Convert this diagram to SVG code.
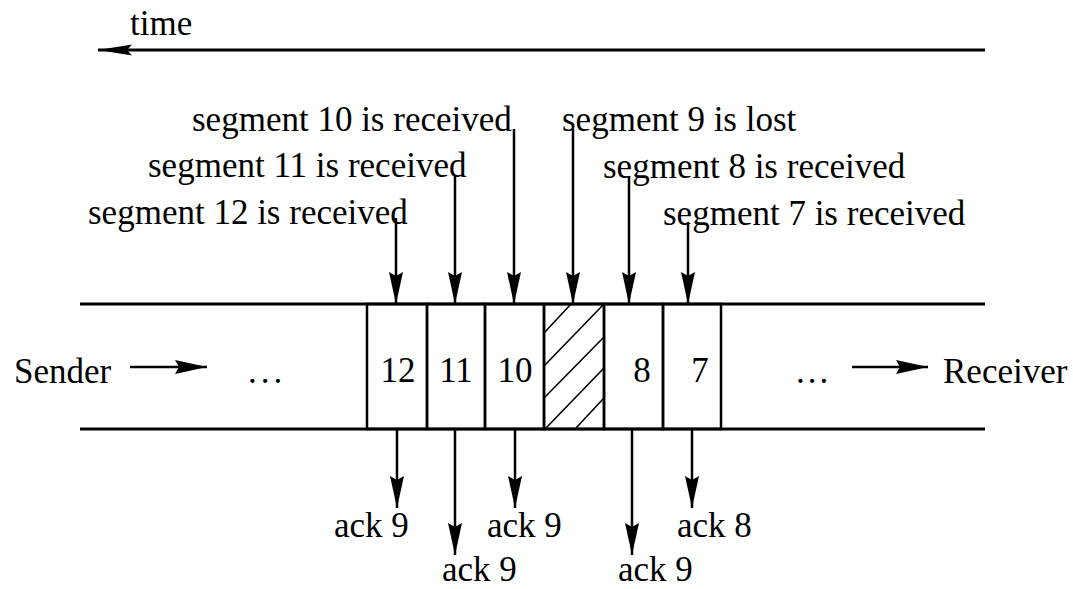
<svg xmlns="http://www.w3.org/2000/svg" width="1073" height="589" viewBox="0 0 1073 589">
<style>
text{font-family:"Liberation Serif","DejaVu Serif","Times New Roman",serif;font-size:35px;fill:#000}
.ln{stroke:#000;stroke-width:3;fill:none}
.ar{stroke:#000;stroke-width:2.5;fill:none;marker-end:url(#ah)}
.bx{stroke:#000;stroke-width:2.5;fill:none}
.ht{stroke:#000;stroke-width:1.6}
.mid{text-anchor:middle}
</style>
<defs>
<marker id="ah" viewBox="-33 -8 34 16" refX="0" refY="0" markerWidth="34" markerHeight="16" orient="auto" markerUnits="userSpaceOnUse">
<path d="M0,0 L-32,-7 L-28,0 L-32,7 Z" fill="#000"/>
</marker>
<marker id="ahs" viewBox="-36 -6 37 12" refX="0" refY="0" markerWidth="37" markerHeight="12" orient="auto" markerUnits="userSpaceOnUse">
<path d="M0,0 L-34,-5.5 L-29,0 L-34,5.5 Z" fill="#000"/>
</marker>
</defs>

<g id="time">
<text x="130" y="35" font-family="Liberation Serif, serif">time</text>
<line x1="985" y1="50" x2="98" y2="50" class="ln" marker-end="url(#ahs)"/>
</g>

<g id="pipe">
<line x1="80" y1="304" x2="985" y2="304" class="ln"/>
<line x1="80" y1="429" x2="985" y2="429" class="ln"/>
</g>

<g id="sender">
<text x="14" y="383">Sender</text>
<text x="248" y="383" letter-spacing="4">...</text>
</g>
<g id="receiver">
<text x="796" y="383" letter-spacing="3">...</text>
<text x="943" y="383">Receiver</text>
</g>

<g id="seg12"><rect x="367" y="304" width="60" height="125" class="bx"/><text x="398" y="382" class="mid">12</text></g>
<g id="seg11"><rect x="427" y="304" width="58" height="125" class="bx"/><text x="456" y="382" class="mid">11</text></g>
<g id="seg10"><rect x="485" y="304" width="59" height="125" class="bx"/><text x="515" y="382" class="mid">10</text></g>
<g id="seg9">
<rect x="544" y="304" width="60" height="125" class="bx"/>
<line x1="544" y1="333" x2="571" y2="304" class="ht"/>
<line x1="544" y1="366" x2="603" y2="305" class="ht"/>
<line x1="544" y1="398" x2="604" y2="337" class="ht"/>
<line x1="546" y1="428" x2="604" y2="368" class="ht"/>
<line x1="576" y1="428" x2="604" y2="398" class="ht"/>
</g>
<g id="seg8"><rect x="604" y="304" width="59" height="125" class="bx"/><text x="642" y="382" class="mid">8</text></g>
<g id="seg7"><rect x="663" y="304" width="58" height="125" class="bx"/><text x="700" y="382" class="mid">7</text></g>

<g id="labels">
<text x="192" y="131">segment 10 is received</text>
<text x="148" y="177">segment 11 is received</text>
<text x="88" y="224">segment 12 is received</text>
<text x="562" y="131">segment 9 is lost</text>
<text x="603" y="178">segment 8 is received</text>
<text x="663" y="225">segment 7 is received</text>
<text x="334" y="537">ack 9</text>
<text x="442" y="581">ack 9</text>
<text x="487" y="537">ack 9</text>
<text x="618" y="581">ack 9</text>
<text x="677" y="537">ack 8</text>
</g>

<g id="connectors">
<line x1="130" y1="367" x2="207" y2="367" class="ar" marker-end="url(#ahs)"/>
<line x1="852" y1="367" x2="928" y2="367" class="ar" marker-end="url(#ahs)"/>
<line x1="396" y1="218" x2="396" y2="304" class="ar"/>
<line x1="455" y1="176" x2="455" y2="304" class="ar"/>
<line x1="514" y1="129" x2="514" y2="304" class="ar"/>
<line x1="573" y1="129" x2="573" y2="304" class="ar"/>
<line x1="629" y1="176" x2="629" y2="304" class="ar"/>
<line x1="688" y1="222" x2="688" y2="304" class="ar"/>
<line x1="397" y1="429" x2="397" y2="508" class="ar"/>
<line x1="455" y1="429" x2="455" y2="555" class="ar"/>
<line x1="515" y1="429" x2="515" y2="508" class="ar"/>
<line x1="632" y1="429" x2="632" y2="555" class="ar"/>
<line x1="692" y1="429" x2="692" y2="508" class="ar"/>
</g>
</svg>
